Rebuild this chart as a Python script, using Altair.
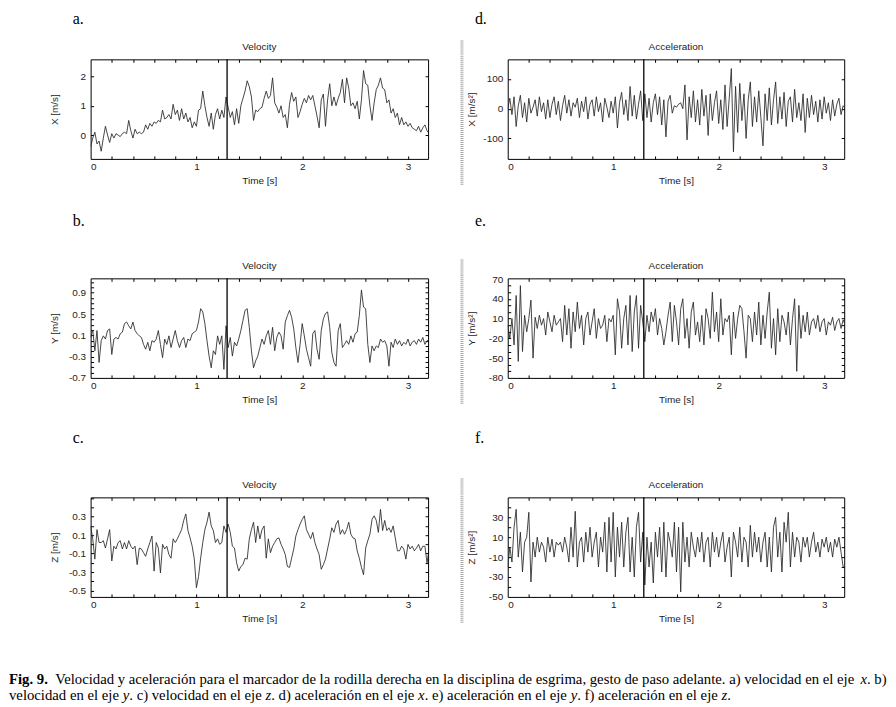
import altair as alt
import pandas as pd

# ---------------- data ----------------
DT = 0.02
EVENT_T = [1.29]  # vertical marker line

vel_x = [-0.4, -0.1, 0.1, -0.3, -0.2, -0.55, -0.1, 0.3, 0.0, -0.25,
         0.05, -0.1, 0.05, 0.0, -0.05, 0.05, 0.1, 0.05, 0.5, 0.15,
         -0.1, 0.2, 0.05, 0.1, 0.05, 0.1, 0.35, 0.2, 0.4, 0.3,
         0.45, 0.4, 0.5, 0.45, 0.85, 0.55, 0.6, 0.7, 0.55, 1.05,
         0.7, 0.85, 0.5, 0.9, 0.55, 0.75, 0.45, 0.6, 0.25, 0.45,
         0.3, 0.85, 0.9, 1.5, 1.0, 0.6, 0.3, 0.75, 0.2, 0.7,
         0.9, 0.55, 0.85, 0.6, 1.3, 0.95, 0.6, 0.8, 0.35, 0.9,
         0.4, 1.0, 1.25, 1.5, 1.85, 1.65, 1.3, 0.5, 0.85, 0.8,
         0.9, 0.95, 1.25, 1.5, 1.25, 1.35, 1.95, 1.1, 0.95, 0.75,
         1.0, 0.6, 0.7, 0.25, 1.05, 1.45, 1.15, 1.3, 0.6, 0.8,
         1.05, 1.25, 1.1, 1.35, 1.2, 1.35, 1.0, 0.65, 0.25, 1.2,
         1.4, 0.3, 1.2, 1.75, 1.0, 1.3, 1.0, 1.25, 1.45, 1.9,
         1.1, 1.95, 1.6, 1.0, 1.1, 0.9, 1.15, 0.55, 1.2, 2.2,
         1.75, 1.7, 1.0, 0.5, 1.1, 1.55, 1.7, 1.95, 1.6, 1.55,
         1.1, 1.2, 0.75, 0.9, 0.6, 0.75, 0.35, 0.6, 0.35, 0.45,
         0.3, 0.4, 0.25, 0.2, 0.15, 0.3, 0.1, 0.25, 0.35, 0.15,
         0.05]

vel_y = [0.06, 0.2, -0.19, 0.19, -0.41, 0.0, 0.09, 0.03, 0.19, 0.22,
         -0.26, 0.03, 0.06, 0.03, 0.13, 0.16, 0.32, 0.35, 0.28, 0.22,
         0.35, 0.19, 0.13, 0.09, 0.06, -0.07, -0.16, -0.03, -0.19, 0.0,
         -0.03, 0.03, 0.19, -0.07, -0.32, 0.03, -0.07, 0.09, -0.13, 0.03,
         0.19, 0.0, -0.13, 0.0, 0.06, -0.13, 0.03, 0.0, 0.13, 0.16,
         0.19, 0.35, 0.6, 0.54, 0.32, 0.0, -0.29, -0.51, -0.19, -0.26,
         0.09, -0.07, 0.09, -0.54, 0.28, -0.13, 0.06, -0.29, -0.03, -0.1,
         0.03, 0.19, 0.38, 0.57, 0.6, 0.25, -0.19, -0.51, -0.38, -0.29,
         -0.13, 0.03, -0.07, 0.09, 0.19, -0.07, 0.25, -0.19, 0.06, 0.16,
         0.09, -0.16, 0.35, 0.47, 0.57, 0.44, 0.22, -0.13, -0.41, -0.07,
         0.32, 0.09, -0.16, -0.32, -0.48, 0.13, 0.19, -0.16, -0.35, 0.19,
         0.41, 0.51, 0.54, 0.25, -0.22, -0.41, -0.48, 0.19, 0.32, -0.13,
         -0.07, 0.0, -0.07, 0.09, -0.03, 0.13, 0.16, 0.47, 0.95, 0.63,
         0.6, -0.07, -0.41, -0.1, -0.19, -0.1, -0.13, 0.03, -0.03, 0.0,
         -0.1, -0.48, -0.03, -0.13, 0.03, -0.07, 0.0, -0.1, -0.03, -0.07,
         0.03, -0.1, -0.03, 0.0, -0.07, 0.03, -0.03, 0.06, -0.07, 0.0,
         0.0]

vel_z = [0.2, 0.06, -0.16, 0.16, 0.02, 0.02, 0.04, -0.04, 0.06, 0.16,
         -0.18, -0.02, -0.05, 0.02, 0.04, -0.05, 0.02, -0.05, 0.04, -0.02,
         -0.05, -0.02, -0.22, -0.04, -0.05, -0.09, -0.13, -0.05, 0.02, 0.09,
         -0.29, 0.02, -0.04, -0.31, 0.0, -0.05, -0.02, -0.11, -0.15, 0.06,
         0.02, 0.06, 0.11, 0.16, 0.26, 0.33, 0.15, 0.07, -0.02, -0.16,
         -0.47, -0.35, -0.15, 0.02, 0.16, 0.24, 0.35, 0.2, 0.15, 0.02,
         0.06, 0.0, 0.02, 0.2, 0.13, 0.22, 0.13, -0.02, -0.04, -0.2,
         -0.29, -0.24, -0.22, -0.15, -0.16, 0.06, 0.16, 0.24, 0.02, 0.2,
         0.06, 0.16, 0.2, -0.15, 0.06, -0.09, -0.02, 0.02, 0.06, 0.07,
         0.0, -0.05, -0.11, -0.24, -0.25, -0.15, -0.05, 0.09, 0.16, 0.22,
         0.27, 0.31, 0.16, 0.11, 0.06, 0.13, 0.02, -0.05, -0.11, -0.27,
         -0.22, -0.16, -0.05, 0.06, 0.18, 0.13, 0.22, 0.26, 0.11, 0.16,
         0.11, 0.16, 0.24, 0.11, 0.07, 0.06, -0.07, -0.15, -0.25, -0.33,
         -0.04, 0.04, 0.11, 0.27, 0.31, 0.26, 0.13, 0.38, 0.15, 0.26,
         0.15, 0.18, 0.13, 0.2, 0.07, -0.07, -0.07, -0.02, -0.05, -0.16,
         0.0, -0.05, -0.02, -0.07, -0.04, 0.0, -0.07, -0.02, -0.02, -0.2,
         -0.05]

acc_x = [0, 35, -20, 40, -60, 10, 45, -30, 20, -45, 35, -15, 5, 30, -25,
         40, -10, 20, -35, 30, -30, 15, 40, -20, 25, -40,
         10, 45, -15, 30, -25, 20, 5, 35, -30, 25, -10, 40, -35, 15, 30,
         -25, 40, -10, 20, -45, 35, 5, -30, 25, -15,
         40, -65, 20, 55, -20, 30, -40, 75, -25, 45, -35, 15, 60, -40, 50,
         -30, 35, -45, 20, 50, -20, 40, -55, 30, -95, 25, 45, -15, 10, 5,
         15, 20, 0, 80, -105, 40, -30, 60, -45, 30,
         -55, 65, -25, 45, -90, 50, -40, 20, 60, -50,
         30, -70, 80, -60, 35, 135, -145, 75, -80, 85, -40, 50, -100, 30, 90,
         -60, 40, -45, 60, -30, -125, 50, -40, 70, -55, 30, 90, -50, 40, -35,
         55, -60, 25, 40, -45, 65, -30, 20, -40, 50, -80, 35, -30, 45, -20,
         25, -45, 30, -35, 40, -15, 20, -40, 30, -25, 15, 35, -20, 10, 0]

acc_y = [0, -20, 10, -30, 45, -55, 60, -40, 15, -10, 10, 38, -50, 12, -5,
         15, 0, 10, -15, 20, 5, -10, 15, 0, 5,
         10, -25, 30, -15, 25, -35, 20, -10, 35, -5, 15, -30, 10, 20, -15,
         5, 25, -20, 10, -5, 0, 15, -25, 10, 5, 15,
         -45, 40, 20, -35, 10, 30, -30, 45, -40, 20, 45, -35, 30, 5, -25,
         15, -10, 20, 5, 25, -15, 10, -5, -30, -10, 15, 35, -25, 30, 5,
         -30, 25, 40, -20, 10, -35, 20, 35, -15, 5, -25, 15, -30, 25, 10,
         -20, 50, -10, 20, -25,
         40, -15, 10, 5, 15, -45, 20, -20, 10, 30, 25, -10, -50, 15, 10,
         -25, 20, -15, 35, -30,
         15, -20, 20, 50, -35, 10, -45, 25, -25, 15, 5, -15, 20, -30, 10,
         40, -70, 30, -20, 15,
         -10, 20, -15, 5, 10, -5, 15, -10, 5, 10, -15, 5, 0, 12, -8,
         5, 10, -5, 8, 0]

acc_z = [-20, 0, -15, 20, 38, -10, 15, -25, 5, 10, 35, -35, 5, -10, 10,
         -5, 5, 0, -15, 10, -5, 8, -10, 5, 2,
         5, -5, 10, 0, -15, 20, -10, 36, -20, 5, 10, -15, 15, -5, 20,
         -10, 5, 15, -20, 10, -5, 25, -25, 30, -15, 35,
         -30, 20, -10, 25, -20, 15, 30, -25, 10, -30, 20, 35, -15, 15, -38,
         10, -20, 5, -36, 15, -10, 20, -25, 25, -30, 15, 5, -10, 25, -25,
         20, -45, 25, -15, 10, -20, 15, 0, -10, 10, -5, 15, -15, 5, 10,
         -20, 15, -5, 10, -10,
         5, 15, -15, 0, 10, -30, 15, 5, -10, 20, -15, 10, 5, -20, 22,
         -10, 15, -5, 10, -15,
         5, 15, -20, 10, -25, 20, 30, -10, 15, -25, 25, 5, 35, -20, 15,
         -10, 10, 5, -15, 10,
         0, 10, -10, 5, 15, -5, 5, -10, 8, 0, 10, -5, 5, -10, 8,
         0, 10, -5, -20, -20]

X_DOMAIN = [0, 3.19]
X_LABELS = [0, 1, 2, 3]
X_MINOR = [round(0.2 * k, 1) for k in range(1, 16)]

# ---------------- style ----------------
FONT = "Liberation Sans"
SERIF = "Liberation Serif"
INK = "#222222"
H = 100
W_LEFT, W_RIGHT = 339, 338
LABEL_EXPR = "replace(datum.label, '\u2212', '-')"
ONE = pd.DataFrame({"k": [0]})


def trace_df(vals):
    return pd.DataFrame({"t": [round(i * DT, 2) for i in range(len(vals))], "v": vals})


def text_at(text, x, y, **kw):
    return alt.Chart(ONE).mark_text(text=text, **kw).encode(x=alt.value(x), y=alt.value(y))


def panel(vals, ydom, ylabels, yminor, yfmt, ytitle, title, letter, width,
          letter_x, letter_y, bar=False, extra=()):
    df = trace_df(vals)
    xs = alt.Scale(domain=X_DOMAIN, nice=False, zero=False)
    ys = alt.Scale(domain=ydom, nice=False, zero=False)
    base = alt.Chart(df)
    line = base.mark_line(color="#262626", strokeWidth=0.85, clip=True).encode(
        x=alt.X("t:Q", scale=xs, axis=alt.Axis(
            orient="bottom", values=X_LABELS, format="d", title="Time [s]",
            ticks=False, domain=False, grid=False, labelPadding=3,
            labelFont=FONT, labelFontSize=10, labelColor=INK,
            titleFont=FONT, titleFontSize=10, titleFontWeight="normal",
            titleColor=INK, titleY=22, titleBaseline="middle")),
        y=alt.Y("v:Q", scale=ys, axis=alt.Axis(
            orient="left", values=ylabels, format=yfmt, labelExpr=LABEL_EXPR,
            title=ytitle, ticks=False, domain=False, grid=False, labelPadding=5,
            labelFont=FONT, labelFontSize=10, labelColor=INK,
            titleFont=FONT, titleFontSize=10, titleFontWeight="normal",
            titleColor=INK, titleX=-36, titleY=H / 2, titleAngle=270,
            titleBaseline="middle", titleAlign="center")),
    )
    tick_axis = dict(labels=False, title=None, domain=False, grid=False,
                     ticks=True, tickSize=3, tickColor="black", tickWidth=1,
                     offset=-3)
    inner1 = base.mark_point(opacity=0).encode(
        x=alt.X("t:Q", scale=xs, axis=alt.Axis(orient="bottom", values=X_MINOR, **tick_axis)),
        y=alt.Y("v:Q", scale=ys, axis=alt.Axis(orient="left", values=yminor, **tick_axis)))
    inner2 = base.mark_point(opacity=0).encode(
        x=alt.X("t:Q", scale=xs, axis=alt.Axis(orient="top", values=X_MINOR, **tick_axis)),
        y=alt.Y("v:Q", scale=ys, axis=alt.Axis(orient="right", values=yminor, **tick_axis)))
    ev = alt.Chart(pd.DataFrame({"t": EVENT_T})).mark_rule(
        color="black", strokeWidth=1.3).encode(x=alt.X("t:Q", scale=xs, axis=None))
    lab = text_at(letter, letter_x, letter_y, align="left", baseline="alphabetic",
                  font=SERIF, fontSize=16, color="black")
    ttl = text_at(title, width / 2, -12, align="center", baseline="middle",
                  font=FONT, fontSize=10, color=INK)
    layers = [line, inner1, inner2, ev, lab, ttl]
    if bar:
        layers.append(alt.Chart(ONE).mark_rule(
            color="#a8a8a8", strokeWidth=3, strokeDash=[1, 1]).encode(
            x=alt.value(-46), y=alt.value(-19), y2=alt.value(127)))
    layers.extend(extra)
    return alt.layer(*layers).resolve_axis(
        x="independent", y="independent").properties(width=width, height=H)


def frange(a, b, step):
    n = int(round((b - a) / step))
    return [round(a + step * k, 2) for k in range(n + 1)]


# ---------------- caption (Times metrics for segment placement) ----------------
CAP_FS = 14.8
TIMES_R = {' ': 250, '.': 250, ',': 250, ')': 333, 'a': 444, 'b': 500, 'c': 444,
           'd': 500, 'e': 444, 'f': 333, 'g': 500, 'h': 500, 'i': 278, 'j': 278,
           'l': 278, 'm': 778, 'n': 500, 'o': 500, 'p': 500, 'r': 333, 's': 389,
           't': 278, 'u': 500, 'v': 500, 'x': 500, 'y': 500, 'z': 444, 'ó': 500,
           'V': 722, 'F': 556}
TIMES_B = {'F': 611, 'i': 278, 'g': 500, '.': 250, ' ': 250, '9': 500}
TIMES_I = {'x': 444, 'y': 444, 'z': 389, ' ': 250}
TABLES = {"normal": TIMES_R, "bold": TIMES_B, "italic": TIMES_I}

CAPTION_LINES = [
    [("Fig. 9.", "bold"),
     ("  Velocidad y aceleración para el marcador de la rodilla derecha en la disciplina de esgrima, gesto de paso adelante. a) velocidad en el eje ", "normal"),
     ("x", "italic"), (". b)", "normal")],
    [("velocidad en el eje ", "normal"), ("y", "italic"),
     (". c) velocidad en el eje ", "normal"), ("z", "italic"),
     (". d) aceleración en el eje ", "normal"), ("x", "italic"),
     (". e) aceleración en el eje ", "normal"), ("y", "italic"),
     (". f) aceleración en el eje ", "normal"), ("z", "italic"),
     (".", "normal")],
]


def caption_layers(x0, baselines):
    out = []
    for segs, by in zip(CAPTION_LINES, baselines):
        x = 0.0
        for text, style in segs:
            tab = TABLES[style]
            lead = len(text) - len(text.lstrip(' '))
            sx = x + lead * tab[' '] * CAP_FS / 1000
            x += sum(tab.get(ch, 500) for ch in text) * CAP_FS / 1000
            out.append(text_at(
                text.strip(' '), x0 + sx, by, align="left", baseline="alphabetic",
                font=SERIF, fontSize=CAP_FS, color="black",
                fontWeight="bold" if style == "bold" else "normal",
                fontStyle="italic" if style == "italic" else "normal"))
    return out


p_a = panel(vel_x, [-0.81, 2.58], [0, 1, 2], [0, 1, 2], "d", "X [m/s]",
            "Velocity", "a.", W_LEFT, -18, -36)
p_d = panel(acc_x, [-169, 166], [-100, 0, 100], [-100, 0, 100], "d", "X [m/s²]",
            "Acceleration", "d.", W_RIGHT, -33, -36, bar=True)
p_b = panel(vel_y, [-0.7, 1.17], [-0.7, -0.3, 0.1, 0.5, 0.9], frange(-0.6, 1.1, 0.1),
            ".1f", "Y [m/s]", "Velocity", "b.", W_LEFT, -18, -53)
p_e = panel(acc_y, [-80, 71], [-80, -50, -20, 10, 40, 70], frange(-70, 60, 10),
            "d", "Y [m/s²]", "Acceleration", "e.", W_RIGHT, -33, -53, bar=True)
p_c = panel(vel_z, [-0.57, 0.51], [-0.5, -0.3, -0.1, 0.1, 0.3], frange(-0.5, 0.5, 0.1),
            ".1f", "Z [m/s]", "Velocity", "c.", W_LEFT, -18, -55,
            extra=caption_layers(-82, [187, 204]))
p_f = panel(acc_z, [-50, 50], [-50, -30, -10, 10, 30], frange(-40, 40, 10),
            "d", "Z [m/s²]", "Acceleration", "f.", W_RIGHT, -33, -55, bar=True)

chart = alt.concat(
    p_a, p_d, p_b, p_e, p_c, p_f, columns=2,
    spacing={"row": 120, "column": 80}, bounds="flush",
).properties(
    padding={"left": 0, "top": 0, "right": 0, "bottom": 0},
    background="white",
).configure_view(stroke="black", strokeWidth=1)

chart.save("out.html", embed_options={"renderer": "svg", "actions": False})
